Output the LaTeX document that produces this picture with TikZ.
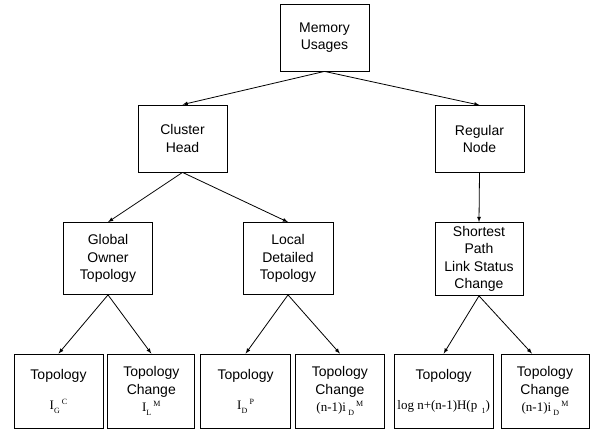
\documentclass[tikz,border=0pt]{standalone}
\usepackage{fontspec}
\setmainfont{Liberation Sans}
\newfontfamily\frmfont{Liberation Serif}
\usetikzlibrary{positioning}

\newcommand{\msub}[1]{\raisebox{-4pt}{\fontsize{8}{8}\selectfont #1}}
\newcommand{\msup}[1]{\raisebox{5pt}{\fontsize{8}{8}\selectfont #1}}

\begin{document}
\begin{tikzpicture}[
    x=1pt, y=1pt, >=latex,
    line width=0.8pt,
    every node/.style={draw, align=center, inner sep=1pt,
      font=\fontsize{14}{17.5}\selectfont},
    topbox/.style={minimum width=89pt, minimum height=67pt},
    midbox/.style={minimum width=89pt, minimum height=72pt},
    leafbox/.style={minimum width=89pt, minimum height=74pt},
  ]
  \useasboundingbox (0,0) rectangle (595,-435);

  % tree levels
  \node [topbox] (mem) at (324.5,-37.5) {Memory\\Usages};
  \node [topbox] (chead) at (182.5,-138.5) {Cluster\\Head};
  \node [topbox] (rnode) at (479.5,-139) {Regular\\Node};
  \node [midbox] (gtop) at (108,-258.5) {Global\\Owner\\Topology};
  \node [midbox,minimum width=90pt] (ltop) at (288,-258.5) {Local\\Detailed\\Topology};
  \node [midbox,minimum width=88pt,minimum height=73pt] (spath) at (479,-259) {Shortest\\Path\\Link Status\\Change};

  % leaves
  \node [leafbox] (t1) at (58.5,-391) {Topology\\[12.5pt]\frmfont\fontsize{13}{17.5}\selectfont I\msub{G}\,\msup{C}};
  \node [leafbox,minimum width=87pt,right=4pt of t1] (t2) {Topology\\Change\\\frmfont\fontsize{13}{17.5}\selectfont I\msub{L}\,\msup{M}};
  \node [leafbox,minimum width=90pt,right=5pt of t2] (t3) {Topology\\[12.5pt]\frmfont\fontsize{13}{17.5}\selectfont I\msub{D}\,\msup{P}};
  \node [leafbox,right=4pt of t3] (t4) {Topology\\Change\\\frmfont\fontsize{13}{17.5}\selectfont (n-1)i\,\msub{D}\,\msup{M}};
  \node [leafbox,minimum width=99pt,right=9pt of t4] (t5) {Topology\\[12.5pt]\frmfont\fontsize{13}{17.5}\selectfont log n+(n-1)H(p\,\,\msub{1})};
  \node [leafbox,minimum width=88pt,right=7pt of t5] (t6) {Topology\\Change\\\frmfont\fontsize{13}{17.5}\selectfont (n-1)i\,\msub{D}\,\msup{M}};

  \draw [->] (mem.south) -- (chead.north);
  \draw [->] (mem.south) -- (rnode.north);
  \draw [->] (chead.south) -- (gtop.north);
  \draw [->] (chead.south) -- (ltop.north);
  \draw [->] (rnode.south) -- (spath.north);
  \draw [->] (gtop.south) -- (t1.north);
  \draw [->] (gtop.south) -- (t2.north);
  \draw [->] (ltop.south) -- (t3.north);
  \draw [->] (ltop.south) -- (t4.north);
  \draw [->] (spath.south) -- (t5.north);
  \draw [->] (spath.south) -- ([xshift=-13pt]t6.north);
\end{tikzpicture}
\end{document}
